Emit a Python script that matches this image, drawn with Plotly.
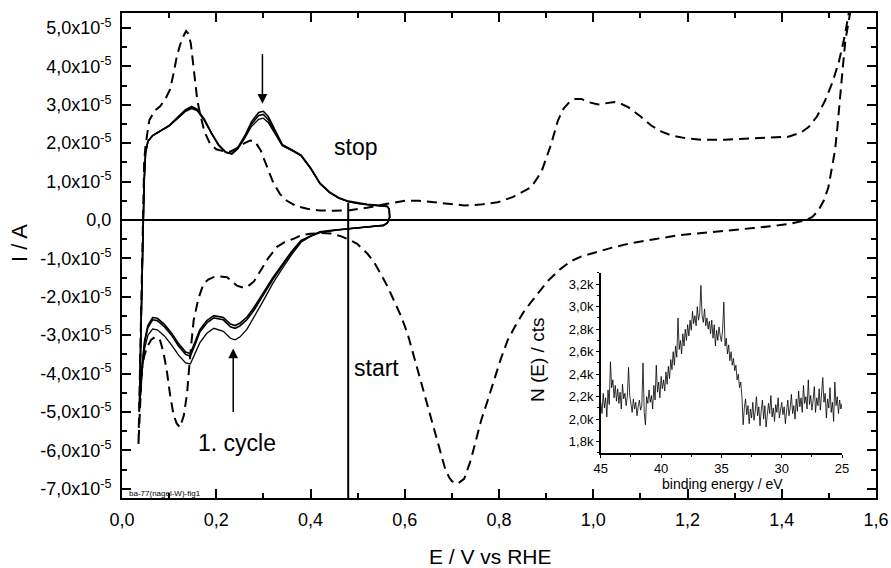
import plotly.graph_objects as go

# ---------------- main CV data (I in units of 1e-5 A) ----------------
# dashed reference CV (starts at lower-left vertex, anodic sweep, then cathodic)
dash_E = [0.035, 0.038, 0.041, 0.044, 0.047, 0.050, 0.058, 0.070, 0.081, 0.092, 0.102, 0.110, 0.116, 0.123,
          0.130, 0.136, 0.141, 0.146, 0.150, 0.155, 0.160, 0.166, 0.175, 0.187, 0.200, 0.215, 0.230, 0.245,
          0.260, 0.272, 0.282, 0.294, 0.308, 0.320, 0.335, 0.350, 0.370, 0.393, 0.420, 0.450, 0.480, 0.520,
          0.563, 0.600, 0.630, 0.680, 0.726, 0.760, 0.797, 0.830, 0.868, 0.890, 0.910, 0.925, 0.937, 0.950,
          0.962, 0.975, 0.990, 1.010, 1.030, 1.045, 1.060, 1.074, 1.100, 1.123, 1.145, 1.166, 1.200, 1.230,
          1.280, 1.322, 1.370, 1.414, 1.440, 1.457, 1.475, 1.492, 1.508, 1.521, 1.533, 1.542, 1.548,
          1.540, 1.535, 1.529, 1.524, 1.518, 1.513, 1.506, 1.499, 1.489, 1.478, 1.465, 1.450, 1.420, 1.393,
          1.340, 1.287, 1.230, 1.180, 1.130, 1.074, 1.040, 1.003, 0.975, 0.953, 0.930, 0.904, 0.880, 0.854,
          0.835, 0.818, 0.803, 0.790, 0.776, 0.762, 0.750, 0.740, 0.726, 0.712, 0.700, 0.694, 0.685, 0.677,
          0.666, 0.655, 0.642, 0.630, 0.618, 0.606, 0.592, 0.577, 0.563, 0.549, 0.535, 0.521, 0.499, 0.485,
          0.464, 0.443, 0.420, 0.400, 0.380, 0.364, 0.345, 0.329, 0.310, 0.294, 0.280, 0.265, 0.254, 0.244,
          0.233, 0.223, 0.208, 0.194, 0.183, 0.173, 0.162, 0.152, 0.145, 0.138, 0.131, 0.123, 0.116, 0.109,
          0.102, 0.095, 0.088, 0.081, 0.075, 0.070, 0.062, 0.053, 0.047, 0.042, 0.040, 0.038, 0.035]
dash_I = [-5.83, -4.00, -1.50, 0.50, 1.50, 1.95, 2.60, 2.85, 2.96, 3.15, 3.40, 3.85, 4.24, 4.55,
          4.78, 4.92, 4.85, 4.60, 4.20, 3.55, 3.10, 2.75, 2.30, 1.98, 1.84, 1.79, 1.78, 1.88,
          2.00, 2.07, 2.05, 1.82, 1.38, 1.00, 0.68, 0.50, 0.36, 0.29, 0.25, 0.24, 0.25, 0.32,
          0.42, 0.50, 0.50, 0.44, 0.38, 0.40, 0.46, 0.60, 0.85, 1.25, 1.95, 2.59, 2.90, 3.08,
          3.15, 3.15, 3.07, 3.01, 3.05, 3.07, 3.02, 2.94, 2.70, 2.46, 2.30, 2.20, 2.12, 2.09,
          2.09, 2.11, 2.13, 2.17, 2.27, 2.42, 2.70, 3.11, 3.60, 4.11, 4.75, 5.37, 5.60,
          5.00, 4.67, 3.90, 3.11, 2.40, 1.81, 1.28, 0.85, 0.50, 0.25, 0.08, -0.01, -0.09, -0.14,
          -0.21, -0.27, -0.33, -0.40, -0.50, -0.62, -0.72, -0.84, -0.95, -1.07, -1.28, -1.58, -1.95, -2.36,
          -2.75, -3.14, -3.65, -4.18, -4.70, -5.22, -5.80, -6.26, -6.74, -6.87, -6.80, -6.70, -6.45, -6.09,
          -5.60, -5.13, -4.55, -4.01, -3.45, -2.96, -2.50, -2.10, -1.72, -1.40, -1.10, -0.88, -0.62, -0.53,
          -0.42, -0.35, -0.34, -0.36, -0.40, -0.49, -0.58, -0.70, -1.00, -1.32, -1.60, -1.75, -1.75, -1.71,
          -1.60, -1.49, -1.47, -1.49, -1.55, -1.66, -2.05, -2.62, -3.48, -4.53, -5.10, -5.40, -5.30, -5.05,
          -4.55, -3.92, -3.45, -3.14, -3.06, -3.05, -3.12, -3.31, -3.55, -3.92, -4.40, -4.87, -5.83]

# solid cycles: common potential grid (start at 0.48 V cathodic, lower vertex, anodic, upper vertex, back)
cyc_E = [0.48, 0.45, 0.42, 0.40, 0.38, 0.36, 0.34, 0.32, 0.30, 0.28, 0.265, 0.25, 0.24, 0.23, 0.215,
         0.195, 0.18, 0.165, 0.155, 0.145, 0.135, 0.12, 0.105, 0.09, 0.075, 0.065, 0.055, 0.048, 0.043,
         0.039, 0.037,
         0.040, 0.044, 0.047, 0.050, 0.055, 0.065, 0.08, 0.10, 0.12, 0.135, 0.148, 0.16, 0.175, 0.19,
         0.205, 0.22, 0.233, 0.245, 0.26, 0.275, 0.29, 0.30, 0.31, 0.325, 0.34, 0.36, 0.38, 0.40, 0.42,
         0.44, 0.46, 0.48, 0.50, 0.52, 0.54, 0.555, 0.563, 0.567, 0.568, 0.563, 0.555, 0.53, 0.50, 0.48]
cycle1_I = [-0.23, -0.27, -0.33, -0.43, -0.58, -0.90, -1.27, -1.65, -2.10, -2.55, -2.85, -3.05, -3.12, -3.08, -2.90,
            -2.82, -2.95, -3.20, -3.50, -3.75, -3.72, -3.52, -3.25, -3.02, -2.86, -2.84, -3.00, -3.35, -3.90,
            -4.55, -4.95,
            -3.00, -0.50, 1.00, 1.75, 2.05, 2.20, 2.30, 2.45, 2.66, 2.83, 2.90, 2.84, 2.58, 2.24,
            1.94, 1.76, 1.72, 1.84, 2.12, 2.44, 2.62, 2.65, 2.54, 2.24, 1.93, 1.81, 1.67, 1.34, 0.95,
            0.72, 0.57, 0.48, 0.43, 0.40, 0.38, 0.37, 0.35, 0.28, 0.07, -0.08, -0.14, -0.17, -0.20, -0.23]
cycle2_I = [-0.23, -0.27, -0.32, -0.42, -0.55, -0.85, -1.20, -1.55, -1.95, -2.35, -2.60, -2.76, -2.82, -2.78, -2.60,
            -2.55, -2.68, -2.92, -3.25, -3.55, -3.50, -3.28, -3.00, -2.78, -2.62, -2.60, -2.80, -3.20, -3.80,
            -4.50, -4.90,
            -3.00, -0.50, 1.00, 1.75, 2.05, 2.20, 2.30, 2.45, 2.68, 2.85, 2.93, 2.86, 2.60, 2.25,
            1.95, 1.76, 1.72, 1.85, 2.15, 2.50, 2.72, 2.75, 2.62, 2.28, 1.95, 1.82, 1.68, 1.35, 0.95,
            0.72, 0.57, 0.48, 0.43, 0.40, 0.38, 0.37, 0.35, 0.28, 0.07, -0.08, -0.14, -0.17, -0.20, -0.23]
cycle3_I = [-0.23, -0.26, -0.31, -0.41, -0.53, -0.82, -1.16, -1.50, -1.89, -2.28, -2.53, -2.69, -2.75, -2.71, -2.54,
            -2.49, -2.62, -2.86, -3.18, -3.48, -3.44, -3.22, -2.94, -2.72, -2.56, -2.54, -2.74, -3.14, -3.76,
            -4.48, -4.90,
            -3.00, -0.50, 1.00, 1.75, 2.05, 2.20, 2.31, 2.46, 2.70, 2.87, 2.96, 2.88, 2.62, 2.26,
            1.96, 1.77, 1.73, 1.87, 2.18, 2.56, 2.80, 2.83, 2.70, 2.32, 1.97, 1.83, 1.69, 1.36, 0.96,
            0.73, 0.58, 0.49, 0.44, 0.41, 0.39, 0.38, 0.36, 0.29, 0.07, -0.08, -0.14, -0.17, -0.20, -0.23]

start_E = 0.48            # start / stop potential marker
marker_top_I = 0.45       # top of the marker line (1e-5 A)

x_ticks = [0.0, 0.2, 0.4, 0.6, 0.8, 1.0, 1.2, 1.4, 1.6]
y_ticks = [5, 4, 3, 2, 1, 0, -1, -2, -3, -4, -5, -6, -7]
y_ticklabels = ["5,0x10<sup>-5</sup>", "4,0x10<sup>-5</sup>", "3,0x10<sup>-5</sup>", "2,0x10<sup>-5</sup>",
                "1,0x10<sup>-5</sup>", "0,0", "-1,0x10<sup>-5</sup>", "-2,0x10<sup>-5</sup>",
                "-3,0x10<sup>-5</sup>", "-4,0x10<sup>-5</sup>", "-5,0x10<sup>-5</sup>",
                "-6,0x10<sup>-5</sup>", "-7,0x10<sup>-5</sup>"]

# ---------------- inset XPS data ----------------
inset_E_start = 45.0
inset_E_step = 0.1
inset_counts = [
    2150, 2050, 2230, 2100, 2190, 2020, 2260, 2130, 2510, 2280,
    2350, 2190, 2300, 2160, 2270, 2140, 2240, 2090, 2310, 2180,
    2230, 2120, 2200, 2460, 2210, 2140, 2060, 2180, 2090, 2150,
    2030, 2110, 2170, 2080, 2120, 2500, 2060, 1950, 2200, 2140,
    2260, 2150, 2210, 2090, 2300, 2170, 2480, 2240, 2330, 2190,
    2380, 2270, 2350, 2250, 2420, 2310, 2470, 2360, 2530, 2440,
    2600, 2480, 2650, 2550, 2900, 2620, 2700, 2580, 2760, 2650,
    2800, 2700, 2840, 2740, 2880, 2790, 2960, 2850, 2920, 2830,
    3000, 2880, 2940, 3190, 2920, 2860, 2980, 2830, 2900, 2800,
    2870, 2760, 2880, 2720, 2840, 2650, 2790, 2700, 2820, 2740,
    2690, 2800, 3040, 2650, 2720, 2580, 2660, 2520, 2600, 2480,
    2540, 2430, 2480, 2350, 2400, 2280, 2330, 2200, 1950, 2100,
    2180, 2040, 2120, 1960, 2090, 2010, 2150, 1990, 2070, 2200,
    2030, 2110, 1940, 2080, 2170, 2000, 2120, 1930, 2060, 2140,
    2050, 2210, 2020, 2100, 1980, 2130, 2060, 2190, 2010, 2090,
    2150, 2040, 2110, 1960, 2080, 2170, 2030, 2100, 2220, 2050,
    2120, 2000, 2180, 2070, 2250, 2110, 2190, 2060, 2300, 2140,
    2200, 2090, 2350, 2130, 2210, 2080, 2170, 2290, 2060, 2190,
    2120, 2270, 2080, 2200, 2370, 2150, 2230, 2010, 2180, 2100,
    2280, 2060, 2150, 1980, 2330, 2120, 2200, 2050, 2170, 2090,
    2140]
inset_E = [round(inset_E_start - inset_E_step * i, 2) for i in range(len(inset_counts))]
inset_xticks = [45, 40, 35, 30, 25]
inset_yticks = [1800, 2000, 2200, 2400, 2600, 2800, 3000, 3200]
inset_ylabels = ["1,8k", "2,0k", "2,2k", "2,4k", "2,6k", "2,8k", "3,0k", "3,2k"]

SCALE = 1e-5
FONT = "Liberation Sans, Arial, sans-serif"

fig = go.Figure()

fig.add_trace(go.Scatter(x=dash_E, y=[v * SCALE for v in dash_I], mode="lines",
                         line=dict(color="black", width=2, dash="10px,6px"), hoverinfo="skip"))
for I, w in [(cycle1_I, 1.3), (cycle2_I, 1.6), (cycle3_I, 1.6)]:
    fig.add_trace(go.Scatter(x=cyc_E, y=[v * SCALE for v in I], mode="lines",
                             line=dict(color="black", width=w), hoverinfo="skip"))

y_min, y_max = -7.24e-5, 5.39e-5
fig.add_trace(go.Scatter(x=[start_E, start_E], y=[marker_top_I * SCALE, y_min], mode="lines",
                         line=dict(color="black", width=2), hoverinfo="skip"))

fig.add_trace(go.Scatter(x=inset_E, y=inset_counts, mode="lines", xaxis="x2", yaxis="y2",
                         line=dict(color="black", width=0.8), hoverinfo="skip"))

fig.update_layout(
    width=891, height=568,
    margin=dict(l=122, r=15, t=13, b=70, autoexpand=False),
    paper_bgcolor="white", plot_bgcolor="white",
    showlegend=False,
    separators=",.",
    font=dict(family=FONT, color="black"),
    xaxis=dict(range=[0, 1.6], tickvals=x_ticks, tickformat=".1f",
               ticks="inside", ticklen=9, tickwidth=1.5, tickcolor="black", ticklabelstandoff=4,
               showline=True, linewidth=2, linecolor="black", mirror="allticks",
               showgrid=False, zeroline=False, tickfont=dict(size=18, family=FONT),
               minor=dict(dtick=0.1, tick0=0, ticks="inside", ticklen=5, tickwidth=1.5, tickcolor="black")),
    yaxis=dict(range=[y_min, y_max], tickvals=[v * SCALE for v in y_ticks], ticktext=y_ticklabels,
               ticks="inside", ticklen=9, tickwidth=1.5, tickcolor="black", ticklabelstandoff=5,
               showline=True, linewidth=2, linecolor="black", mirror="allticks",
               showgrid=False, zeroline=True, zerolinecolor="black", zerolinewidth=1.5,
               tickfont=dict(size=18, family=FONT),
               minor=dict(dtick=0.5e-5, tick0=0, ticks="inside", ticklen=5, tickwidth=1.5, tickcolor="black")),
    xaxis2=dict(domain=[0.635, 0.955], anchor="y2", range=[45, 25], tickvals=inset_xticks,
                ticks="outside", ticklen=3, tickwidth=1.2, tickcolor="black",
                showline=True, linewidth=1.5, linecolor="black", showgrid=False, zeroline=False,
                tickfont=dict(size=13, family=FONT),
                minor=dict(dtick=2.5, tick0=25, ticks="outside", ticklen=2, tickwidth=1, tickcolor="black")),
    yaxis2=dict(domain=[0.093, 0.464], anchor="x2", range=[1700, 3300], tickvals=inset_yticks,
                ticktext=inset_ylabels, ticks="outside", ticklen=3, tickwidth=1.2, tickcolor="black",
                showline=True, linewidth=1.5, linecolor="black", showgrid=False, zeroline=False,
                tickfont=dict(size=13, family=FONT),
                minor=dict(dtick=100, tick0=1800, ticks="outside", ticklen=2, tickwidth=1, tickcolor="black")),
)

# text labels at pixel positions (centre), converted to paper coordinates
plot_l, plot_r, plot_t, plot_b = 122, 876, 13, 498
labels = [
    ("E / V vs RHE", 490, 556, 0, 21),
    ("I / A", 19, 243, -90, 22),
    ("stop", 355, 147, 0, 23),
    ("start", 376, 368, 0, 23),
    ("1. cycle", 237, 443, 0, 23),
    ("ba-77(nagel-W)-fig1", 165, 493, 0, 8),
    ("N (E) / cts", 537, 360, -90, 19),
    ("binding energy / eV", 722, 484, 0, 14),
]
for text, px, py, ang, size in labels:
    fig.add_annotation(text=text, x=(px - plot_l) / (plot_r - plot_l), y=(plot_b - py) / (plot_b - plot_t),
                       xref="paper", yref="paper", xanchor="center", yanchor="middle",
                       showarrow=False, textangle=ang,
                       font=dict(size=size, family=FONT, color="black"))

# arrows (in data coordinates)
arrow_down = dict(E=0.298, I_tail=4.36, I_head=3.03)
arrow_up = dict(E=0.236, I_tail=-5.04, I_head=-3.35)
for ar in (arrow_down, arrow_up):
    fig.add_annotation(x=ar["E"], y=ar["I_head"] * SCALE, ax=ar["E"], ay=ar["I_tail"] * SCALE,
                       xref="x", yref="y", axref="x", ayref="y", text="", showarrow=True,
                       arrowhead=2, arrowsize=1.3, arrowwidth=1.5, arrowcolor="black")

fig.write_html("out.html", config={"displayModeBar": False},
               post_script="document.body.style.margin='0px';")
